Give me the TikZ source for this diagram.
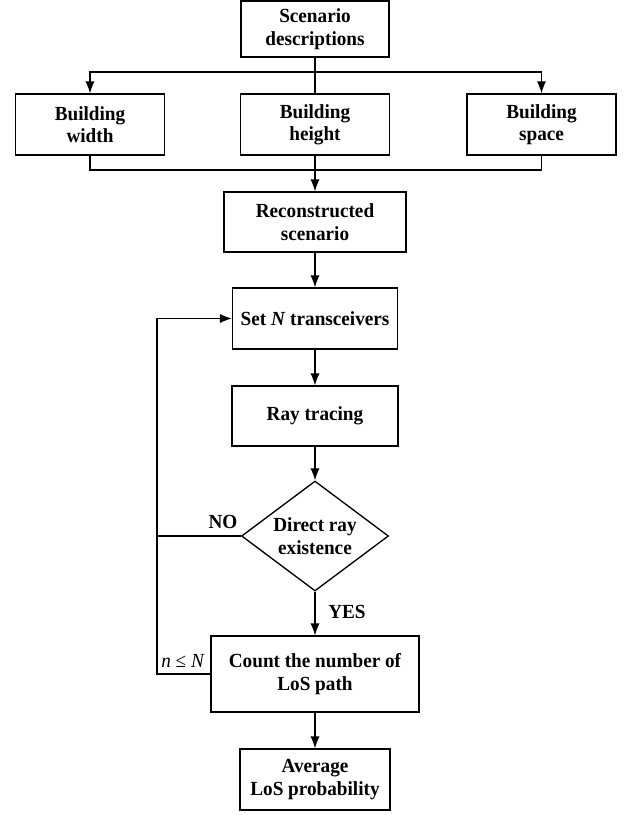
\documentclass[tikz,border=0pt]{standalone}
\usepackage{fontspec}
\setmainfont{Liberation Serif}[FakeStretch=0.96]
\usetikzlibrary{arrows.meta,shapes.geometric}

\tikzset{
  box/.style={draw, line width=1pt, align=center, inner sep=1pt,
    font=\bfseries\fontsize{15}{16.8}\selectfont},
  decision/.style={box, diamond, aspect=1.34},
  flow/.style={line width=1pt, -{Latex[length=9pt,width=7pt]}},
  link/.style={line width=1pt},
  tag/.style={font=\bfseries\fontsize{15}{16.8}\selectfont}
}

\begin{document}
\begin{tikzpicture}[x=0.75pt, y=-0.75pt]
        \useasboundingbox (0,0) rectangle (629,815);
        % Scenario and the three building parameters
        \node[box, minimum width=111pt, minimum height=42pt] (desc) at (315,29) {Scenario\\descriptions};
        \node[box, minimum width=111.75pt, minimum height=45.75pt] (width) at (90,124.5) {Building\\width};
        \node[box, minimum width=111.75pt, minimum height=45.75pt] (height) at (315,124.5) {Building\\height};
        \node[box, minimum width=111.75pt, minimum height=45.75pt] (space) at (541.5,124.5) {Building\\space};
        \coordinate (split) at (315,72);
        \coordinate (merge) at (315,170);
        \draw[link] (desc.south) -- (height.north);
        \draw[flow] (split) -| (width.north);
        \draw[flow] (split) -| (space.north);
        \draw[link] (width.south) -- (width.south |- merge) -- (space.south |- merge) -- (space.south);
        % Main flow
        \node[box, minimum width=136.5pt, minimum height=45pt] (recon) at (315,222) {Reconstructed\\scenario};
        \node[box, minimum width=123.75pt, minimum height=45.75pt] (setn) at (315,318.5) {Set \textit{N} transceivers};
        \node[box, minimum width=124.5pt, minimum height=45pt] (ray) at (315,416) {Ray tracing};
        \node[decision, minimum width=110.25pt, minimum height=82.5pt, inner sep=0pt] (dia) at (315,536) {Direct ray\\existence};
        \node[box, minimum width=156pt, minimum height=57pt] (count) at (315,674) {Count the number of\\LoS path};
        \node[box, minimum width=112.5pt, minimum height=45.75pt] (avg) at (315,779.5) {Average\\LoS probability};
        \draw[flow] (height.south) -- (recon.north);
        \draw[flow] (recon) -- (setn);
        \draw[flow] (setn) -- (ray);
        \draw[flow] (ray) -- (dia);
        \draw[flow] (dia) -- (count);
        \draw[flow] (count) -- (avg);
        % Loop back to the transceivers
        \coordinate (loop) at (157,0);
        \draw[link] (dia.west) -- (dia.west -| loop);
        \draw[flow] (count.west) -- (count.west -| loop) |- (setn.west);
        \node[tag] (no) at (223,522) {NO};
        \node[tag] (yes) at (347,612) {YES};
        \node[font=\fontsize{15}{16.8}\selectfont] (cond) at (183,661) {\textit{n} ≤ \textit{N}};
      \end{tikzpicture}
\end{document}
